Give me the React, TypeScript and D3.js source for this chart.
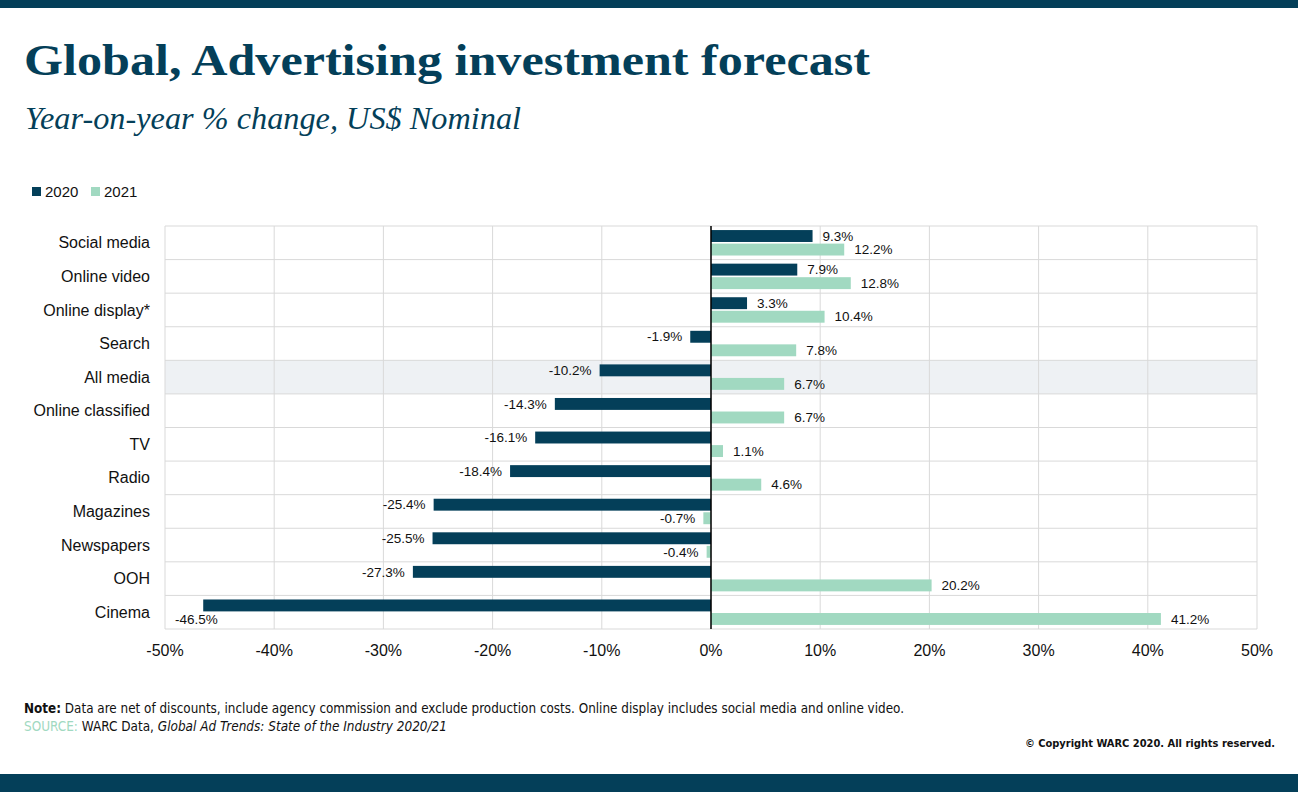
import * as d3 from "d3";

const categories = [
  "Social media",
  "Online video",
  "Online display*",
  "Search",
  "All media",
  "Online classified",
  "TV",
  "Radio",
  "Magazines",
  "Newspapers",
  "OOH",
  "Cinema",
];
const series = ["2020", "2021"];
const values2020 = [9.3, 7.9, 3.3, -1.9, -10.2, -14.3, -16.1, -18.4, -25.4, -25.5, -27.3, -46.5];
const values2021 = [12.2, 12.8, 10.4, 7.8, 6.7, 6.7, 1.1, 4.6, -0.7, -0.4, 20.2, 41.2];
const xTicks = [-50, -40, -30, -20, -10, 0, 10, 20, 30, 40, 50];
const highlight = "All media";

const W = 1298;
const H = 792;
const dark = "#043f59";
const light = "#a1d9c1";
const grid = "#d9d9d9";
const sans = "'Liberation Sans', Arial, sans-serif";
const narrow = "'Liberation Sans Narrow', 'DejaVu Sans Condensed', sans-serif";

export default function App() {
  const left = 165;
  const right = 1257;
  const top = 226;
  const bottom = 629;

  const x = d3.scaleLinear().domain([-50, 50]).range([left, right]);
  const y = d3.scaleBand().domain(categories).range([top, bottom]);
  const inner = d3
    .scaleBand()
    .domain(series)
    .range([0, y.bandwidth()])
    .paddingInner(0.12)
    .paddingOuter(0.3);
  const colors = d3.scaleOrdinal<string, string>().domain(series).range([dark, light]);
  const fmt = (v: number) => `${v.toFixed(1)}%`;

  const bars = categories.flatMap((c, i) =>
    series.map((s) => ({ c, s, v: s === "2020" ? values2020[i] : values2021[i] }))
  );

  return (
    <svg width={W} height={H} style={{ display: "block", position: "absolute", left: 0, top: 0 }}>
      <rect x={0} y={0} width={W} height={H} fill="#fff" />
      <rect x={0} y={0} width={W} height={8} fill={dark} />
      <rect x={0} y={774} width={W} height={18} fill={dark} />

      <text
        x={24}
        y={75}
        fontFamily="'Liberation Serif', 'DejaVu Serif', serif"
        fontWeight="bold"
        fontSize={45}
        fill={dark}
        textLength={846}
        lengthAdjust="spacingAndGlyphs"
      >
        Global, Advertising investment forecast
      </text>
      <text
        x={25}
        y={129}
        fontFamily="'Liberation Serif', 'DejaVu Serif', serif"
        fontStyle="italic"
        fontSize={32}
        fill={dark}
        textLength={496}
        lengthAdjust="spacingAndGlyphs"
      >
        Year-on-year % change, US$ Nominal
      </text>

      {/* legend */}
      {series.map((s, i) => (
        <g key={s} transform={`translate(${32 + i * 59},187)`}>
          <rect width={9} height={9} fill={colors(s)} />
          <text x={13} y={10} fontFamily={sans} fontSize={15} fontWeight={500} fill="#111">
            {s}
          </text>
        </g>
      ))}

      {/* highlighted row */}
      <rect
        x={left}
        y={y(highlight)!}
        width={right - left}
        height={y.bandwidth()}
        fill="#eef1f4"
      />

      {/* grid */}
      {xTicks.map((t) => (
        <line key={t} x1={x(t)} x2={x(t)} y1={top} y2={bottom} stroke={grid} strokeWidth={1} />
      ))}
      {categories.map((c) => (
        <line key={c} x1={left} x2={right} y1={y(c)!} y2={y(c)!} stroke={grid} strokeWidth={1} />
      ))}
      <line x1={left} x2={right} y1={bottom} y2={bottom} stroke={grid} strokeWidth={1} />

      {/* bars */}
      {bars.map((b) => (
        <rect
          key={b.c + b.s}
          x={Math.min(x(0), x(b.v))}
          y={y(b.c)! + inner(b.s)!}
          width={Math.abs(x(b.v) - x(0))}
          height={inner.bandwidth()}
          fill={colors(b.s)}
        />
      ))}
      <line x1={x(0)} x2={x(0)} y1={top} y2={bottom} stroke="#000" strokeWidth={1.5} />

      {/* data labels */}
      {bars.map((b) => {
        const by = y(b.c)! + inner(b.s)! + inner.bandwidth() / 2;
        const end = x(b.v);
        let lx = b.v >= 0 ? end + 10 : end - 8;
        let anchor = b.v >= 0 ? "start" : "end";
        let ly = by;
        if (b.v < 0 && end - 50 < left) {
          lx = left + 10;
          anchor = "start";
          ly = y(b.c)! + inner("2021")! + inner.bandwidth() / 2;
        }
        return (
          <text
            key={"l" + b.c + b.s}
            x={lx}
            y={ly}
            dy="0.35em"
            textAnchor={anchor}
            fontFamily={sans}
            fontSize={13.5}
            fill="#111"
          >
            {fmt(b.v)}
          </text>
        );
      })}

      {/* category labels */}
      {categories.map((c) => (
        <text
          key={"c" + c}
          x={150}
          y={y(c)! + y.bandwidth() / 2}
          dy="0.35em"
          textAnchor="end"
          fontFamily={sans}
          fontSize={16}
          fill="#111"
        >
          {c}
        </text>
      ))}

      {/* x axis ticks */}
      {xTicks.map((t) => (
        <text
          key={"t" + t}
          x={x(t)}
          y={650}
          dy="0.35em"
          textAnchor="middle"
          fontFamily={sans}
          fontSize={16}
          fill="#111"
        >
          {`${t}%`}
        </text>
      ))}

      {/* footer */}
      <text x={24} y={713} fontFamily={narrow} fontSize={13.5} fill="#111" textLength={880} lengthAdjust="spacingAndGlyphs">
        <tspan fontWeight="bold">Note:</tspan> Data are net of discounts, include agency commission and exclude production costs. Online display includes social media and online video.
      </text>
      <text x={24} y={731} fontFamily={narrow} fontSize={13.5} fill="#111" textLength={423} lengthAdjust="spacingAndGlyphs">
        <tspan fill={light}>SOURCE:</tspan> WARC Data, <tspan fontStyle="italic">Global Ad Trends: State of the Industry 2020/21</tspan>
      </text>
      <text
        x={1275}
        y={747}
        textAnchor="end"
        fontFamily={narrow}
        fontWeight="bold"
        fontSize={11}
        fill="#111"
      >
        © Copyright WARC 2020. All rights reserved.
      </text>
    </svg>
  );
}
